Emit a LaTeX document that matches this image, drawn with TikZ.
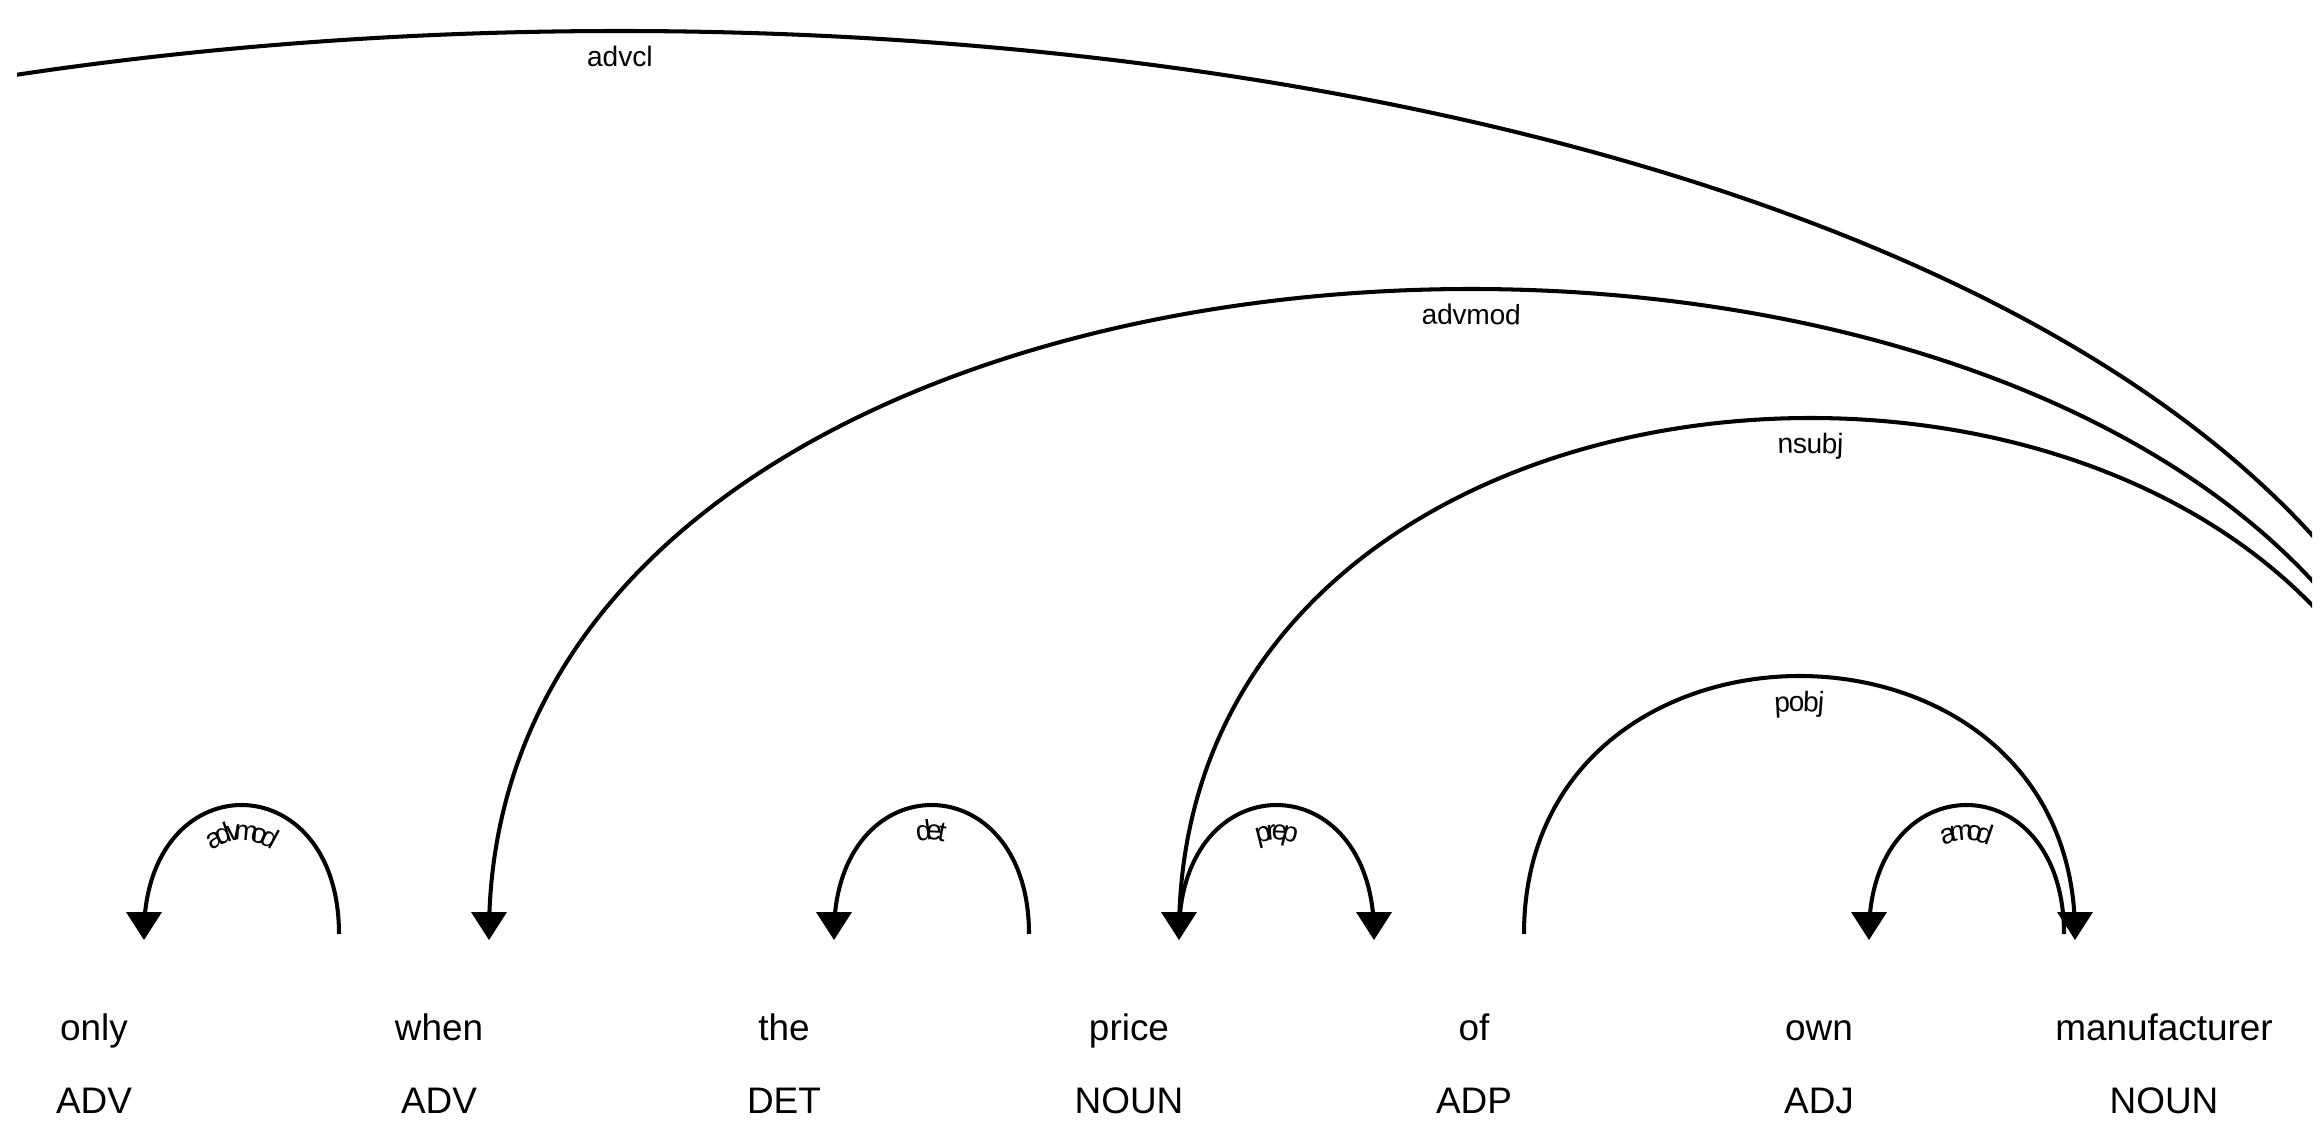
\documentclass[tikz,border=0pt]{standalone}
\usepackage{fontspec}
\setmainfont{Liberation Sans}
\usetikzlibrary{calc,decorations.text}

\newcommand{\arclabelfont}{\fontsize{8pt}{9pt}\selectfont}
\tikzset{
  word/.style={anchor=base,inner sep=0pt,font=\fontsize{10.5pt}{12pt}\selectfont},
  arc/.style={line width=1.15pt},
  lbl/.style={postaction={decorate,decoration={text along path,text align=center,
      raise=-10pt,text={|\arclabelfont|#1}}}},
}

\begin{document}
\begin{tikzpicture}[x=0.01cm,y=-0.01cm,line join=round]
  \useasboundingbox (0,0) rectangle (2324,1146);
  % words and tags
  \node[word] (only) at (94,1040) {only};
  \node[word] (when) at (439,1040) {when};
  \node[word] (the) at (784,1040) {the};
  \node[word] (price) at (1129,1040) {price};
  \node[word] (of) at (1474,1040) {of};
  \node[word] (own) at (1819,1040) {own};
  \node[word] (manuf) at (2164,1040) {manufacturer};
  \node[word] (only-t) at (94,1113) {ADV};
  \node[word] (when-t) at (439,1113) {ADV};
  \node[word] (the-t) at (784,1113) {DET};
  \node[word] (price-t) at (1129,1113) {NOUN};
  \node[word] (of-t) at (1474,1113) {ADP};
  \node[word] (own-t) at (1819,1113) {ADJ};
  \node[word] (manuf-t) at (2164,1113) {NOUN};
  % arc ends
  \coordinate (a-only) at (144,934);
  \coordinate (a-when) at (489,934);
  \coordinate (a-the) at (834,934);
  \coordinate (a-price) at (1179,934);
  \coordinate (a-of) at (1524,934);
  \coordinate (a-own) at (1869,934);
  \coordinate (e-when) at (339,934);
  \coordinate (e-price) at (1029,934);
  \coordinate (e-of) at (1374,934);
  \coordinate (e-manuf1) at (2064,934);
  \coordinate (e-manuf2) at (2075,934);
  \coordinate (e-root4) at (2442,934);
  \coordinate (e-root5) at (2453,934);
  \coordinate (e-root7) at (2475,934);
  \coordinate (a-far) at (-1236,934);
  \begin{scope}
    \clip (17,0) rectangle (2312,1146);
    \draw[arc,lbl=advmod] (a-only) .. controls +(0,-172) and +(0,-172) .. (e-when);
    \draw[arc,lbl=advmod] (a-when) .. controls +(0,-860) and +(0,-860) .. (e-root5);
    \draw[arc,lbl=det] (a-the) .. controls +(0,-172) and +(0,-172) .. (e-price);
    \draw[arc,lbl=prep] (a-price) .. controls +(0,-172) and +(0,-172) .. (e-of);
    \draw[arc,lbl=nsubj] (a-price) .. controls +(0,-688) and +(0,-688) .. (e-root4);
    \draw[arc,lbl=pobj] (a-of) .. controls +(0,-344) and +(0,-344) .. (e-manuf2);
    \draw[arc,lbl=amod] (a-own) .. controls +(0,-172) and +(0,-172) .. (e-manuf1);
    \draw[arc,lbl=advcl] (a-far) .. controls +(0,-1204) and +(0,-1204) .. (e-root7);
  \end{scope}
  % arrow heads
  \fill (a-only) ++(0,6) -- ++(-18,-28) -- ++(36,0) -- cycle;
  \fill (a-when) ++(0,6) -- ++(-18,-28) -- ++(36,0) -- cycle;
  \fill (a-the) ++(0,6) -- ++(-18,-28) -- ++(36,0) -- cycle;
  \fill (a-price) ++(0,6) -- ++(-18,-28) -- ++(36,0) -- cycle;
  \fill (e-of) ++(0,6) -- ++(-18,-28) -- ++(36,0) -- cycle;
  \fill (a-own) ++(0,6) -- ++(-18,-28) -- ++(36,0) -- cycle;
  \fill (e-manuf2) ++(0,6) -- ++(-18,-28) -- ++(36,0) -- cycle;
\end{tikzpicture}
\end{document}
